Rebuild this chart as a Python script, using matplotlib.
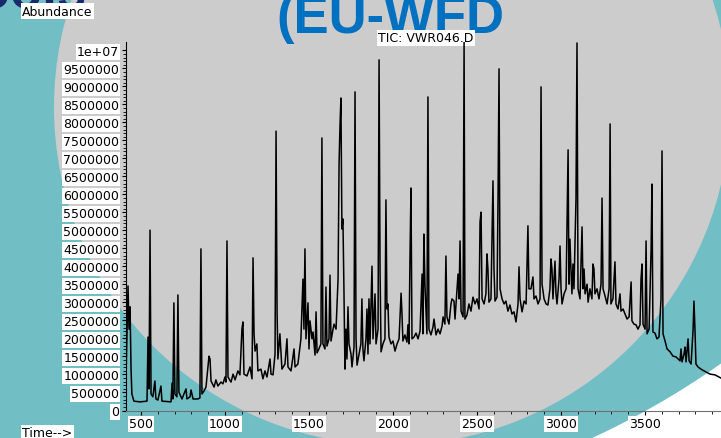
import matplotlib
matplotlib.use('Agg')
import matplotlib.pyplot as plt
from matplotlib.patches import Circle

# TIC trace (time, abundance)
time_vals = [411, 423, 429, 435, 441, 446, 458, 494, 536, 542, 548, 554, 560, 571, 583, 589, 601, 619, 625,
             679, 685, 690, 696, 702, 714, 720, 726, 744, 768, 774, 792, 798, 810, 839, 851, 857, 863, 875,
             887, 905, 911, 917, 935, 946, 958, 976, 988, 1000, 1006, 1012, 1018, 1036, 1048, 1060, 1077,
             1089, 1101, 1107, 1113, 1131, 1149, 1161, 1167, 1173, 1179, 1190, 1196, 1214, 1226, 1238, 1250,
             1268, 1274, 1286, 1298, 1304, 1310, 1315, 1327, 1339, 1357, 1369, 1375, 1393, 1411, 1417, 1434,
             1452, 1464, 1470, 1476, 1482, 1494, 1500, 1506, 1518, 1524, 1536, 1542, 1548, 1559, 1571, 1577,
             1583, 1595, 1601, 1607, 1619, 1625, 1631, 1643, 1649, 1661, 1673, 1679, 1684, 1690, 1696, 1702,
             1708, 1714, 1720, 1726, 1732, 1738, 1750, 1756, 1768, 1774, 1780, 1786, 1798, 1809, 1815, 1821,
             1827, 1839, 1845, 1851, 1857, 1863, 1869, 1875, 1881, 1893, 1899, 1911, 1917, 1923, 1929, 1940,
             1952, 1958, 1964, 1970, 1976, 1988, 2000, 2012, 2024, 2036, 2042, 2048, 2053, 2059, 2071, 2083,
             2089, 2095, 2101, 2107, 2113, 2125, 2137, 2149, 2161, 2173, 2178, 2184, 2190, 2202, 2208, 2214,
             2226, 2238, 2244, 2256, 2268, 2280, 2292, 2298, 2309, 2315, 2321, 2333, 2345, 2351, 2363, 2369,
             2381, 2387, 2393, 2399, 2405, 2417, 2423, 2428, 2440, 2452, 2464, 2476, 2488, 2500, 2512, 2518,
             2524, 2530, 2542, 2553, 2559, 2565, 2571, 2583, 2589, 2595, 2601, 2607, 2619, 2625, 2631, 2637,
             2649, 2661, 2672, 2684, 2696, 2708, 2720, 2732, 2744, 2750, 2756, 2768, 2780, 2792, 2803, 2809,
             2821, 2833, 2839, 2851, 2863, 2875, 2881, 2887, 2899, 2911, 2922, 2934, 2940, 2946, 2952, 2964,
             2970, 2976, 2988, 2994, 3000, 3006, 3018, 3030, 3036, 3042, 3047, 3053, 3059, 3065, 3071, 3077,
             3089, 3095, 3101, 3113, 3125, 3131, 3137, 3143, 3155, 3161, 3172, 3184, 3190, 3196, 3202, 3214,
             3226, 3238, 3244, 3250, 3262, 3274, 3286, 3292, 3297, 3309, 3321, 3327, 3339, 3351, 3357, 3369,
             3381, 3393, 3405, 3417, 3422, 3434, 3446, 3458, 3470, 3476, 3482, 3488, 3500, 3506, 3512, 3524,
             3536, 3541, 3547, 3559, 3571, 3583, 3595, 3601, 3607, 3619, 3631, 3649, 3666, 3684, 3708, 3714,
             3720, 3732, 3738, 3744, 3756, 3762, 3774, 3786, 3791, 3797, 3803, 3815, 3839, 3863, 3887, 3916,
             3952]
abundance_vals = [880000, 3460000, 2260000, 2880000, 1150000, 460000, 260000, 240000, 260000, 2040000,
                  600000, 5010000, 460000, 380000, 820000, 320000, 290000, 680000, 260000,
                  240000, 760000, 320000, 2990000, 460000, 380000, 3210000, 510000, 320000, 600000,
                  320000, 380000, 570000, 320000, 320000, 350000, 4490000, 460000, 540000,
                  650000, 1510000, 1430000, 820000, 650000, 850000, 680000, 790000, 740000, 930000,
                  790000, 4710000, 930000, 790000, 1010000, 850000, 1100000,
                  990000, 2260000, 2460000, 1010000, 960000, 1210000, 880000, 4240000, 2130000, 1650000,
                  1850000, 1100000, 1150000, 880000, 1100000, 930000,
                  1430000, 1010000, 990000, 1570000, 7760000, 2760000, 1430000, 2130000, 1150000, 1290000,
                  1990000, 1210000, 1100000, 1710000, 1210000, 1290000,
                  1990000, 3650000, 2260000, 4490000, 1990000, 2990000, 1710000, 2490000, 1990000, 2180000,
                  1540000, 2740000, 1600000, 1710000, 1850000, 7570000,
                  1850000, 1710000, 3430000, 1790000, 1990000, 3760000, 1930000, 2260000, 2400000, 2260000,
                  3650000, 6850000, 7820000, 8680000, 5040000, 5320000,
                  3380000, 1150000, 2260000, 1430000, 2880000, 1850000, 1570000, 1210000, 1760000, 8850000,
                  1990000, 1260000, 1570000, 1850000, 3100000, 1710000,
                  1380000, 1990000, 2820000, 1570000, 3100000, 1850000, 2960000, 4010000, 1990000, 3240000,
                  1850000, 2260000, 9740000, 3850000, 1630000, 1850000,
                  1990000, 5850000, 2820000, 2960000, 2040000, 1850000, 1930000, 1650000, 1850000, 1990000,
                  2650000, 3260000, 2740000, 1930000, 2100000, 1900000,
                  2380000, 1850000, 4210000, 6180000, 1990000, 2040000, 2150000, 1990000, 2210000, 3790000,
                  2130000, 4900000, 3510000, 2130000, 8710000, 2260000,
                  2100000, 2320000, 2540000, 2100000, 2260000, 2130000, 2350000, 2600000, 2400000, 4290000,
                  2600000, 2400000, 2960000, 3100000, 3040000, 2540000,
                  3380000, 3790000, 3100000, 4710000, 2760000, 2600000, 10240000, 2540000, 2650000, 2960000,
                  2760000, 3150000, 2960000, 3100000, 2820000, 5240000,
                  5510000, 3100000, 2960000, 3240000, 4350000, 3930000, 3010000, 3100000, 4760000, 6380000,
                  3930000, 3040000, 3150000, 5880000, 9490000, 3380000,
                  3100000, 2960000, 3040000, 2760000, 2930000, 2680000, 2740000, 2460000, 2960000, 3990000,
                  3100000, 2740000, 3040000, 2960000, 5130000, 3380000,
                  3380000, 3710000, 3100000, 3180000, 2960000, 3100000, 8990000, 3510000, 3100000, 2960000,
                  2930000, 3380000, 4210000, 3930000, 3100000, 4150000,
                  3240000, 2960000, 3650000, 4570000, 3380000, 2960000, 3240000, 3380000, 5320000, 7240000,
                  3510000, 4760000, 3930000, 3240000, 4070000, 3380000,
                  5880000, 10210000, 3380000, 3100000, 5100000, 3380000, 3930000, 3240000, 3510000, 3010000,
                  3380000, 3100000, 4070000, 3930000, 3240000, 3380000,
                  3100000, 3510000, 5900000, 3380000, 3180000, 2960000, 3380000, 7960000, 2960000, 3100000,
                  4130000, 2960000, 2820000, 3240000, 2760000, 2820000,
                  2680000, 2540000, 2600000, 3570000, 2490000, 2400000, 2380000, 2260000, 2380000, 3650000,
                  4070000, 2400000, 2260000, 4710000, 2130000, 2260000,
                  4490000, 6290000, 2180000, 2150000, 1990000, 2040000, 3100000, 7210000, 2130000, 1930000,
                  1710000, 1630000, 1510000, 1490000, 1380000, 1710000,
                  1350000, 1570000, 1760000, 1350000, 1990000, 1380000, 1290000, 2260000, 3040000, 2260000,
                  1290000, 1210000, 1130000, 1070000, 1010000, 990000,
                  900000]

x_ticks = [500, 1000, 1500, 2000, 2500, 3000, 3500]
x_tick_labels = ['500', '1000', '1500', '2000', '2500', '3000', '3500']
y_ticks = list(range(0, 10000001, 500000))
y_tick_labels = [str(v) for v in y_ticks[:-1]] + ['1e+07']

W, H = 721, 439
fig = plt.figure(figsize=(W / 100, H / 100), dpi=100)
fig.patch.set_facecolor('white')

# slide background (pixel coordinates, y down)
bg = fig.add_axes([0, 0, 1, 1])
bg.set_xlim(0, W)
bg.set_ylim(H, 0)
bg.axis('off')
bg.add_patch(Circle((247, -307), 822, facecolor='#72bec5', edgecolor='none'))
bg.add_patch(Circle((392, 108), 338, facecolor='#cccccc', edgecolor='none'))
bg.text(86, 7, 'ools', ha='right', va='baseline', fontsize=38, fontweight='bold',
        color='#172b6b', family='Liberation Sans')
bg.text(276, 33, '(EU-WFD', ha='left', va='baseline', fontsize=38, fontweight='bold',
        color='#0070c0', family='Liberation Sans')

box = dict(facecolor='white', edgecolor='none', pad=1.0)
bg.text(426, 39, 'TIC: VWR046.D', ha='center', va='center', fontsize=9, bbox=box)
bg.text(22, 12, 'Abundance', ha='left', va='center', fontsize=9, bbox=box)
bg.text(22, 434, 'Time-->', ha='left', va='center', fontsize=9, bbox=box)

# chromatogram axes
left, right, bottom, top = 126, W, 411.5, 43
ax = fig.add_axes([left / W, (H - bottom) / H, (right - left) / W, (bottom - top) / H])
ax.set_facecolor('none')
ax.plot(time_vals, abundance_vals, color='black', lw=1.1)
ax.set_xlim(411, 3952)
ax.set_ylim(0, 10236000)

ax.spines['top'].set_visible(False)
ax.spines['right'].set_visible(False)
ax.spines['left'].set_color('black')
ax.spines['bottom'].set_color('#707070')

ax.set_xticks(x_ticks)
ax.set_xticklabels(x_tick_labels)
ax.set_xticks(range(500, 3901, 100), minor=True)
ax.set_yticks(y_ticks)
ax.set_yticklabels(y_tick_labels)
ax.set_yticks(range(0, 10000001, 100000), minor=True)
ax.tick_params(axis='both', which='major', length=3, width=0.8, labelsize=9, pad=2, colors='black')
ax.tick_params(axis='both', which='minor', length=2, width=0.6)
ax.tick_params(axis='x', pad=2)

for lab in ax.get_xticklabels() + ax.get_yticklabels():
    lab.set_bbox(dict(facecolor='white', edgecolor='none', pad=0.8))

fig.savefig('out.png', dpi=100)
